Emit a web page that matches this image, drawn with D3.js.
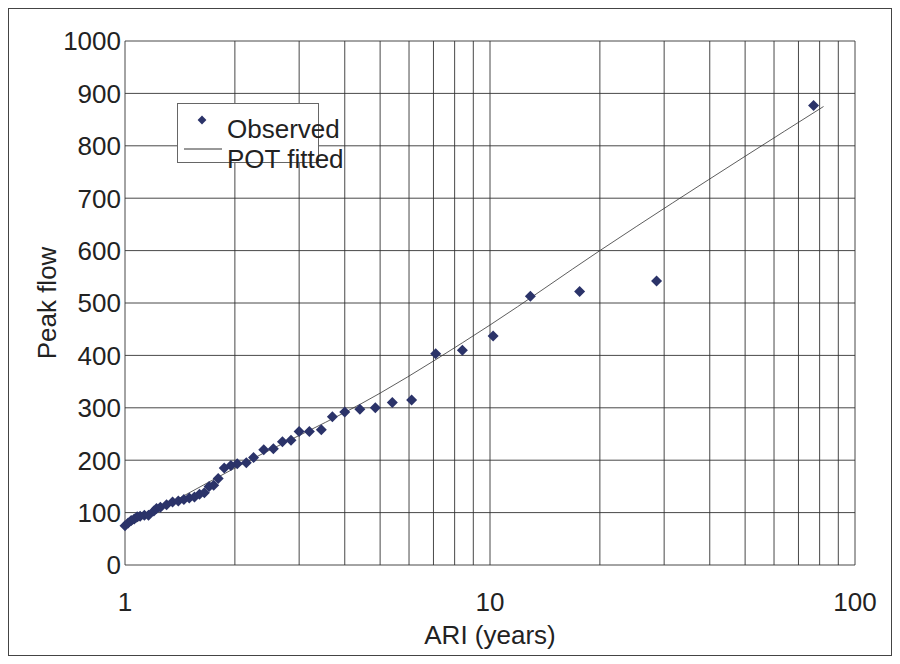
<!DOCTYPE html>
<html><head><meta charset="UTF-8">
<script src="https://d3js.org/d3.v7.min.js"></script>
<style>body{margin:0;background:#fff;font-family:"Liberation Sans",Arial,sans-serif;}</style>
</head><body>
<svg width="900" height="664"></svg>
<script>
const obsAri = [1.0,1.02,1.04,1.06,1.08,1.1,1.13,1.16,1.2,1.22,1.25,1.3,1.35,1.4,1.45,1.5,1.55,1.6,1.65,1.7,1.75,1.8,1.87,1.95,2.03,2.15,2.25,2.4,2.55,2.7,2.85,3.0,3.2,3.45,3.7,4.0,4.4,4.85,5.4,6.1,7.1,8.4,10.2,12.9,17.6,28.6,77];
const obsFlow = [75,80,85,88,92,93,95,95,103,108,110,115,120,122,125,128,130,135,138,150,152,165,185,190,193,195,205,220,222,235,238,255,255,258,283,292,297,300,310,315,403,410,437,513,522,542,877];
const fitAri = [1,2,5,10,20,50,82];
const fitFlow = [70,185,328,458,600,780,875];
const yTicks = [0,100,200,300,400,500,600,700,800,900,1000];

const svg = d3.select("svg");
svg.append("rect").attr("x",8.5).attr("y",8.5).attr("width",883).attr("height",647)
  .attr("fill","none").attr("stroke","#444");

const x = d3.scaleLog().domain([1,100]).range([125,855]);
const y = d3.scaleLinear().domain([0,1000]).range([565,41]);
const diamond = "M0,-5.5L5.5,0L0,5.5L-5.5,0Z";

const grid = svg.append("g").attr("stroke","#333").attr("stroke-width",0.9);
const xg = [];
for (let d = 1; d <= 10; d *= 10) for (let k = 1; k < 10; k++) xg.push(d*k);
xg.push(100);
grid.selectAll(".vx").data(xg).enter().append("line")
  .attr("x1",d=>x(d)).attr("x2",d=>x(d)).attr("y1",y(0)).attr("y2",y(1000));
grid.selectAll(".hy").data(yTicks).enter().append("line")
  .attr("x1",x(1)).attr("x2",x(100)).attr("y1",d=>y(d)).attr("y2",d=>y(d));

svg.append("g").selectAll("text").data(yTicks).enter().append("text")
  .attr("x",x(1)-4).attr("y",d=>y(d)).attr("dy","0.36em").attr("text-anchor","end")
  .attr("font-size",26).attr("fill","#222").text(d=>d);
svg.append("g").selectAll("text").data([1,10,100]).enter().append("text")
  .attr("x",d=>x(d)).attr("y",611).attr("text-anchor","middle")
  .attr("font-size",26).attr("fill","#222").text(d=>d);
svg.append("text").attr("x",x(10)).attr("y",644).attr("text-anchor","middle")
  .attr("font-size",26).attr("fill","#222").text("ARI (years)");
svg.append("text").attr("transform","translate(56,"+y(500)+") rotate(-90)")
  .attr("text-anchor","middle").attr("font-size",26).attr("fill","#222").text("Peak flow");

svg.append("path").datum(fitAri.map((a,i)=>[a,fitFlow[i]]))
  .attr("fill","none").attr("stroke","#333").attr("stroke-width",0.8)
  .attr("d",d3.line().x(d=>x(d[0])).y(d=>y(d[1])).curve(d3.curveMonotoneX));

svg.append("g").selectAll("path").data(obsAri.map((a,i)=>[a,obsFlow[i]])).enter().append("path")
  .attr("transform",d=>"translate("+x(d[0])+","+y(d[1])+")")
  .attr("d",diamond).attr("fill","#2b3369");

const lg = svg.append("g");
lg.append("rect").attr("x",177.5).attr("y",103.5).attr("width",141).attr("height",59)
  .attr("fill","#fff").attr("stroke","#666");
lg.append("path").attr("transform","translate(202,120) scale(0.8)").attr("d",diamond).attr("fill","#2b3369");
lg.append("line").attr("x1",184).attr("x2",222).attr("y1",149).attr("y2",149).attr("stroke","#333");
lg.append("text").attr("x",227).attr("y",138).attr("font-size",26).attr("fill","#222").text("Observed");
lg.append("text").attr("x",227).attr("y",168).attr("font-size",26).attr("fill","#222").text("POT fitted");
</script>
</body></html>
